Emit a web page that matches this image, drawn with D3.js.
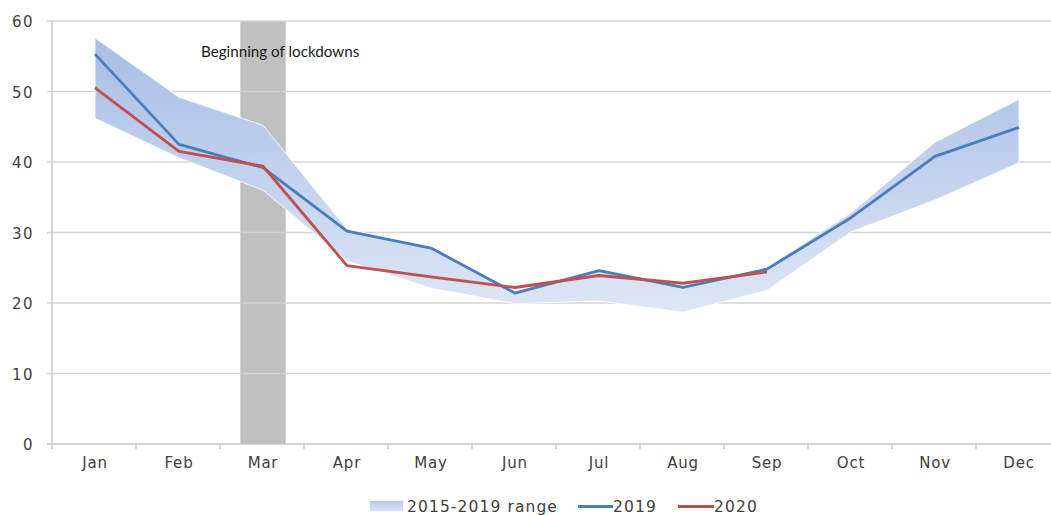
<!DOCTYPE html>
<html><head><meta charset="utf-8">
<script src="https://cdn.jsdelivr.net/npm/d3@7"></script>
<style>body{margin:0;background:#fff}svg{display:block}</style>
</head><body>
<script>
const months = ["Jan","Feb","Mar","Apr","May","Jun","Jul","Aug","Sep","Oct","Nov","Dec"];
const rangeLow  = [46.2,40.6,36.0,26.0,22.1,19.9,20.3,18.7,21.8,30.1,34.6,39.9];
const rangeHigh = [57.6,49.2,45.2,30.5,27.9,21.7,24.8,22.4,25.1,32.8,42.8,48.9];
const s2019 = [55.3,42.5,39.2,30.2,27.8,21.4,24.6,22.2,24.8,32.1,40.8,44.9];
const s2020 = [50.5,41.5,39.4,25.3,23.7,22.2,23.9,22.8,24.4];
const yTicks = [0,10,20,30,40,50,60];
const lockdownMonth = "Mar";
const annotation = "Beginning of lockdowns";

const W = 1051, H = 515;
const svg = d3.select("body").append("svg").attr("width", W).attr("height", H);

const x = d3.scaleBand().domain(months).range([53, 1061]);
const y = d3.scaleLinear().domain([0, 60]).range([444, 21]);
const cx = m => x(m) + x.bandwidth() / 2;

const defs = svg.append("defs");
const grad = defs.append("linearGradient").attr("id", "bandGrad")
  .attr("gradientUnits", "userSpaceOnUse")
  .attr("x1", 0).attr("x2", 0).attr("y1", y(58)).attr("y2", y(19));
grad.append("stop").attr("offset", 0).attr("stop-color", "#a7bde6");
grad.append("stop").attr("offset", 1).attr("stop-color", "#dde6f5");

// lockdown bar
svg.append("rect")
  .attr("x", x(lockdownMonth) + x.bandwidth() * 0.23)
  .attr("width", x.bandwidth() * 0.54)
  .attr("y", y(60)).attr("height", y(0) - y(60))
  .attr("fill", "#c0c0c0");

// grid
svg.append("g").selectAll("line").data(yTicks.filter(d => d > 0)).join("line")
  .attr("x1", 47).attr("x2", W)
  .attr("y1", d => y(d)).attr("y2", d => y(d))
  .attr("stroke", "#d4d4d4").attr("stroke-width", 1.5);

// band
const bandData = months.map((m, i) => ({m, lo: rangeLow[i], hi: rangeHigh[i]}));
svg.append("path").datum(bandData)
  .attr("d", d3.area().x(d => cx(d.m)).y0(d => y(d.lo)).y1(d => y(d.hi)))
  .attr("fill", "url(#bandGrad)").attr("stroke", "#fff").attr("stroke-width", 0.8);

// axes
const xAxis = svg.append("g").attr("transform", `translate(0,${y(0)})`);
xAxis.append("line").attr("x1", 47).attr("x2", W).attr("stroke", "#c8c8c8").attr("stroke-width", 1.5);
xAxis.selectAll("line.tick").data(months).join("line").attr("class", "tick")
  .attr("x1", d => x(d) - 1).attr("x2", d => x(d) - 1).attr("y1", 0).attr("y2", 5)
  .attr("stroke", "#c8c8c8").attr("stroke-width", 1.5);
xAxis.selectAll("text").data(months).join("text")
  .attr("x", d => cx(d)).attr("y", 24).attr("text-anchor", "middle")
  .attr("font-family", "DejaVu Sans").attr("font-size", 15).attr("letter-spacing", 0.8)
  .attr("fill", "#404040").text(d => d);

svg.append("line").attr("x1", 52).attr("x2", 52).attr("y1", y(60)).attr("y2", y(0))
  .attr("stroke", "#c8c8c8").attr("stroke-width", 1.5);
svg.append("g").selectAll("text").data(yTicks).join("text")
  .attr("x", 34).attr("y", d => y(d) + 6).attr("text-anchor", "end")
  .attr("font-family", "DejaVu Sans").attr("font-size", 15).attr("letter-spacing", 1.5)
  .attr("fill", "#404040").text(d => d);

// lines
const line = d3.line().x((d, i) => cx(months[i])).y(d => y(d));
svg.append("path").datum(s2019).attr("d", line).attr("fill", "none")
  .attr("stroke", "#4a7ebb").attr("stroke-width", 2.8).attr("stroke-linejoin", "round");
svg.append("path").datum(s2020).attr("d", line).attr("fill", "none")
  .attr("stroke", "#c0504d").attr("stroke-width", 2.8).attr("stroke-linejoin", "round");

// annotation
svg.append("text").attr("x", 201).attr("y", 57)
  .attr("font-family", "Lato").attr("font-size", 15.2).attr("fill", "#1a1a1a")
  .text(annotation);

// legend
const lg = svg.append("g").attr("font-family", "DejaVu Sans").attr("font-size", 15.5).attr("fill", "#404040");
const lgrad = defs.append("linearGradient").attr("id", "lgGrad").attr("x1", 0).attr("x2", 0).attr("y1", 0).attr("y2", 1);
lgrad.append("stop").attr("offset", 0).attr("stop-color", "#b9cbeb");
lgrad.append("stop").attr("offset", 1).attr("stop-color", "#d9e3f4");
lg.append("rect").attr("x", 370).attr("y", 501).attr("width", 33).attr("height", 10).attr("fill", "url(#lgGrad)");
lg.append("text").attr("x", 407).attr("y", 512).attr("letter-spacing", 1.1).text("2015-2019 range");
lg.append("line").attr("x1", 578).attr("x2", 613).attr("y1", 506.5).attr("y2", 506.5).attr("stroke", "#4a7ebb").attr("stroke-width", 2.8);
lg.append("text").attr("x", 613).attr("y", 512).attr("letter-spacing", 1.1).text("2019");
lg.append("line").attr("x1", 678).attr("x2", 714).attr("y1", 506.5).attr("y2", 506.5).attr("stroke", "#c0504d").attr("stroke-width", 2.8);
lg.append("text").attr("x", 714).attr("y", 512).attr("letter-spacing", 1.1).text("2020");
</script>
</body></html>
